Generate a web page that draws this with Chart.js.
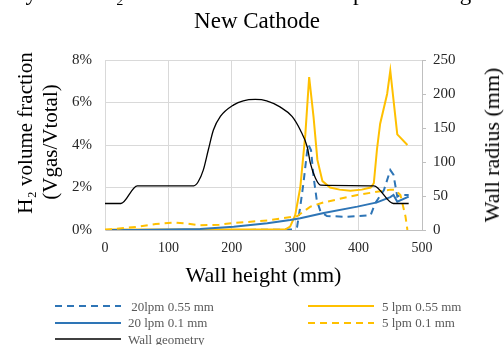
<!DOCTYPE html>
<html><head><meta charset="utf-8">
<script src="https://cdn.jsdelivr.net/npm/chart.js@4"></script>
<style>
html,body{margin:0;padding:0;background:#fff;}
#wrap{position:relative;width:504px;height:345px;overflow:hidden;font-family:"Liberation Serif","Times New Roman",serif;}
canvas{position:absolute;left:0;top:0;}
.tl{position:absolute;left:257px;transform:translateX(-50%);font-size:23px;line-height:28px;height:28px;color:#000;white-space:nowrap;}
.vt{position:absolute;transform:translate(-50%,-50%) rotate(-90deg);white-space:nowrap;color:#000;line-height:1;}
.leg{position:absolute;font-size:13px;color:#595959;height:17px;line-height:17px;white-space:pre;}
svg.ls{position:absolute;}
</style></head>
<body>
<div id="wrap">
<canvas id="c" width="504" height="345"></canvas>
<div class="tl" style="top:-21px">Dynamic H₂ volume fraction vs wall profile along the</div>
<div class="tl" style="top:7px">New Cathode</div>
<div id="ytitle1" class="vt" style="left:25px;top:133px;font-size:21px;"></div>
<div id="ytitle2" class="vt" style="left:50px;top:142px;font-size:21px;"></div>
<div id="y1title" class="vt" style="left:492px;top:145px;font-size:22px;"></div>
<div id="legend"></div>
</div>
<script>
// ---- data ----
const seriesLabels = [' 20lpm 0.55 mm', '5 lpm 0.55 mm', '20 lpm 0.1 mm', '5 lpm 0.1 mm', 'Wall geometry'];
const leftAxisTitle = ['H₂ volume fraction', '(Vgas/Vtotal)'];
const rightAxisTitle = 'Wall radius (mm)';
const xAxisTitle = 'Wall height (mm)';

const x20lpm055 = [0,100,200,295,303,308,313,319,321,325,329,334,340,350,380,419,426,440,450,455,461,466,479];
const y20lpm055 = [0,0,0,0.02,0.15,1.1,2.2,3.75,4.0,3.75,2.5,1.4,0.86,0.66,0.62,0.7,1.25,1.88,2.82,2.6,1.57,1.65,1.65];

const x5lpm055 = [0,100,200,284,292,300,308,316,322,329,335,343,355,370,387,405,419,424,429,434,445,450,461,477];
const y5lpm055 = [0.02,0.02,0.02,0.02,0.16,0.7,2.0,4.5,7.2,5.3,3.3,2.3,2.0,1.9,1.85,1.9,2.0,2.2,3.8,5.0,6.4,7.5,4.5,4.0];

const x20lpm01 = [0,50,100,150,203,256,292,308,345,398,429,450,455,461,479];
const y20lpm01 = [0,0,0.02,0.05,0.15,0.32,0.47,0.55,0.8,1.1,1.3,1.55,1.65,1.33,1.57];

const x5lpm01 = [0,50,80,108,130,150,180,203,256,303,324,345,398,450,457,466,474,477];
const y5lpm01 = [0,0.15,0.28,0.35,0.3,0.22,0.25,0.33,0.45,0.65,1.1,1.3,1.65,1.9,1.9,1.65,0.63,0];

const wallX = [0,25,51,140,147,155,163,171,182,203,218,237,255,276,295,308,319,324,332,340,424,455,479];
const wallR = [39,39,65,65,71,88,118,147,167,184,190,192,190,181,167,147,122,98,76,66,65,39,39];

const xTicks = [0,100,200,300,400,500];
const leftTicks = [0,2,4,6,8];
const rightTicks = [0,50,100,150,200,250];

// ---- styles ----
const BLUE = '#2E75B6', GOLD = '#FFC000', BLACK = '#000000';
const FONT = '"Liberation Serif","Times New Roman",serif';
const mk = (xs, ys) => xs.map((x, i) => ({x: x, y: ys[i]}));

document.getElementById('ytitle1').textContent = leftAxisTitle[0];
document.getElementById('ytitle2').textContent = leftAxisTitle[1];
document.getElementById('y1title').textContent = rightAxisTitle;

const datasets = [
  {label: seriesLabels[0], data: mk(x20lpm055, y20lpm055), borderColor: BLUE, borderDash: [7,5], borderWidth: 2, yAxisID: 'y'},
  {label: seriesLabels[1], data: mk(x5lpm055, y5lpm055), borderColor: GOLD, borderWidth: 2, yAxisID: 'y'},
  {label: seriesLabels[2], data: mk(x20lpm01, y20lpm01), borderColor: BLUE, borderWidth: 2, yAxisID: 'y'},
  {label: seriesLabels[3], data: mk(x5lpm01, y5lpm01), borderColor: GOLD, borderDash: [7,5], borderWidth: 2, yAxisID: 'y'},
  {label: seriesLabels[4], data: mk(wallX, wallR), borderColor: BLACK, borderWidth: 1.3, yAxisID: 'y1', cubicInterpolationMode: 'monotone'}
];
datasets.forEach((d, i) => { d.pointRadius = 0; d.fill = false; d.tension = 0; d.order = datasets.length - i; d.backgroundColor = d.borderColor; });

new Chart(document.getElementById('c'), {
  type: 'line',
  data: {datasets: datasets},
  options: {
    responsive: false,
    animation: false,
    layout: {padding: {top: 60, right: 0, bottom: 55, left: 0}},
    plugins: {legend: {display: false}, tooltip: {enabled: false}},
    scales: {
      x: {
        type: 'linear', min: 0, max: 500,
        afterFit: s => { s.height = 60; },
        afterBuildTicks: s => { s.ticks = xTicks.map(v => ({value: v})); },
        grid: {color: '#d9d9d9', drawTicks: false},
        border: {color: '#bfbfbf'},
        ticks: {font: {family: FONT, size: 14}, color: '#262626', padding: 10, maxRotation: 0},
        title: {display: true, text: xAxisTitle, font: {family: FONT, size: 22}, color: '#000', padding: {bottom: 1, top: 0}}
      },
      y: {
        position: 'left', min: 0, max: 8,
        afterFit: s => { s.width = 105; },
        afterBuildTicks: s => { s.ticks = leftTicks.map(v => ({value: v})); },
        grid: {color: '#d9d9d9', drawTicks: false},
        border: {color: '#d9d9d9'},
        ticks: {font: {family: FONT, size: 15}, color: '#262626', padding: 13, callback: v => v + '%'}
      },
      y1: {
        position: 'right', min: 0, max: 250,
        afterFit: s => { s.width = 82; },
        afterBuildTicks: s => { s.ticks = rightTicks.map(v => ({value: v})); },
        grid: {drawOnChartArea: false, drawTicks: true, tickLength: 4, color: '#bfbfbf'},
        border: {color: '#bfbfbf'},
        ticks: {font: {family: FONT, size: 15}, color: '#262626', padding: 7}
      }
    }
  }
});

// ---- legend (HTML, generated from the datasets) ----
const leg = document.getElementById('legend');
const colSample = [55, 308], colText = [128, 382];
datasets.forEach((d, i) => {
  const col = i % 2, row = Math.floor(i / 2);
  const cy = 306 + row * 16.5;
  const svgNS = 'http://www.w3.org/2000/svg';
  const svg = document.createElementNS(svgNS, 'svg');
  svg.setAttribute('class', 'ls');
  svg.setAttribute('width', '68'); svg.setAttribute('height', '6');
  svg.style.left = colSample[col] + 'px'; svg.style.top = (cy - 3) + 'px';
  const ln = document.createElementNS(svgNS, 'line');
  ln.setAttribute('x1', '0'); ln.setAttribute('x2', '66'); ln.setAttribute('y1', '3'); ln.setAttribute('y2', '3');
  ln.setAttribute('stroke', d.borderColor); ln.setAttribute('stroke-width', d.borderWidth);
  if (d.borderDash) ln.setAttribute('stroke-dasharray', d.borderDash.join(' '));
  svg.appendChild(ln);
  leg.appendChild(svg);
  const t = document.createElement('div');
  t.className = 'leg';
  t.textContent = d.label;
  t.style.left = colText[col] + 'px';
  t.style.top = (cy - 8.5) + 'px';
  leg.appendChild(t);
});
</script>
</body></html>
